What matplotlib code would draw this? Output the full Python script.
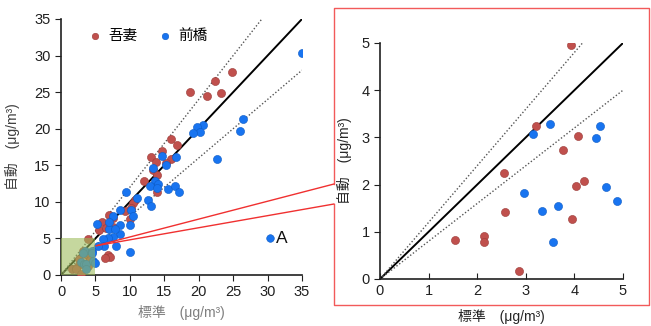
import matplotlib
matplotlib.use("Agg")
import matplotlib.pyplot as plt
from matplotlib.lines import Line2D
from matplotlib.patches import Rectangle, ConnectionPatch

plt.rcParams['font.family'] = ['Liberation Sans', 'Noto Sans CJK JP', 'DejaVu Sans']

# 吾妻 (red)
agatsuma_std = [24.9, 22.4, 18.8, 21.2, 23.2, 16.0, 16.8, 14.6, 13.1, 13.8, 16.0, 15.3, 13.4, 13.9,
                12.1, 14.0, 10.7, 10.5, 10.2, 10.0, 9.3, 6.9, 7.6, 5.9, 5.5, 6.6, 7.6, 6.8, 7.1, 6.4,
                3.94, 3.22, 2.55, 2.58, 1.55, 2.13, 2.13, 2.87, 3.77, 4.07, 4.03, 4.19, 3.95]
agatsuma_auto = [27.8, 26.5, 25.0, 24.5, 24.9, 18.6, 17.8, 16.9, 16.2, 15.4, 15.8, 15.3, 14.4, 13.7,
                 12.9, 11.3, 10.3, 9.8, 9.1, 7.7, 8.7, 8.2, 7.8, 7.2, 6.2, 6.4, 6.6, 2.7, 2.4, 2.3,
                 4.96, 3.25, 2.25, 1.41, 0.82, 0.91, 0.78, 0.18, 2.74, 3.04, 1.98, 2.08, 1.27]

# 前橋 (blue)
maebashi_std = [35.0, 26.5, 26.0, 20.6, 19.8, 20.2, 19.1, 22.7, 16.7, 14.7, 15.2, 13.4, 13.6, 14.1,
                12.9, 13.9, 15.6, 16.6, 17.1, 12.7, 13.0, 9.4, 11.0, 10.2, 10.5, 10.0, 8.5, 8.5, 8.6,
                7.5, 7.0, 7.8, 6.9, 7.6, 6.8, 6.1, 5.3, 6.2, 8.0, 5.4, 10.0,
                3.49, 3.15, 2.97, 3.34, 3.66, 3.56, 4.53, 4.45, 4.64, 4.88]
maebashi_auto = [30.3, 21.3, 19.7, 20.5, 20.3, 19.6, 19.4, 15.9, 16.1, 16.3, 15.0, 14.6, 12.9, 12.5,
                 12.1, 11.9, 11.7, 12.2, 11.3, 10.3, 9.4, 11.3, 10.5, 8.9, 8.1, 6.9, 8.9, 6.8, 5.6,
                 8.1, 6.3, 6.3, 7.2, 5.2, 5.0, 4.9, 7.0, 3.9, 3.9, 4.0, 3.1,
                 3.28, 3.07, 1.82, 1.45, 1.54, 0.78, 3.25, 2.98, 1.95, 1.66]

red = '#C0504D'
blue = '#1874F0'
unit = '\u3000(\u03bcg/m\u00b3)'

fig = plt.figure(figsize=(6.51, 3.26), dpi=100)
W, H = 651.0, 326.0

def px(x0, y0, x1, y1):
    return [x0 / W, 1 - y1 / H, (x1 - x0) / W, (y1 - y0) / H]

ax1 = fig.add_axes(px(61, 19, 302, 275))
ax2 = fig.add_axes(px(380, 43, 623, 279))

def style(ax, lim, step, xdir):
    ax.set_xlim(0, lim)
    ax.set_ylim(0, lim)
    ax.set_xticks(range(0, lim + 1, step))
    ax.set_yticks(range(0, lim + 1, step))
    for s in ['top', 'right']:
        ax.spines[s].set_visible(False)
    for s in ['left', 'bottom']:
        ax.spines[s].set_linewidth(1.2)
        ax.spines[s].set_color('#202020')
    ax.tick_params(axis='x', direction=xdir, length=4, labelsize=10.5, colors='#202020')
    ax.tick_params(axis='y', direction='out', length=4, labelsize=10.5, colors='#202020')

# left: full range
style(ax1, 35, 5, 'out')
ax1.plot([0, 35], [0, 35], color='black', lw=1.4, zorder=2)
ax1.plot([0, 35 / 1.2], [0, 35], color='#555555', lw=1.0, ls=(0, (1, 1.5)), zorder=2)
ax1.plot([0, 35], [0, 28], color='#555555', lw=1.0, ls=(0, (1, 1.5)), zorder=2)
ax1.scatter(agatsuma_std, agatsuma_auto, s=34, color=red, edgecolors='#9a3a37', linewidths=0.4,
            zorder=3, label='吾妻')
ax1.scatter(maebashi_std, maebashi_auto, s=34, color=blue, edgecolors='#0d5bc4', linewidths=0.4,
            zorder=3, label='前橋')
ax1.add_patch(Rectangle((0, 0), 5, 5, color='#9BBB59', alpha=0.58, lw=0, zorder=4))
ax1.scatter([30.4], [5.0], s=30, color=blue, edgecolors='#0d5bc4', linewidths=0.4, zorder=3,
            clip_on=False)
ax1.text(31.2, 5.0, 'A', fontsize=12.5, va='center', ha='left', color='#111111')
ax1.legend(loc='upper left', bbox_to_anchor=(0.08, 0.985), ncol=2, frameon=False,
           fontsize=10.5, handletextpad=0.3, columnspacing=1.3, markerscale=0.8,
           handlelength=1.2, borderaxespad=0)
ax1.set_xlabel('標準' + unit, fontsize=10, color='#7f7f7f', labelpad=4)
ax1.set_ylabel('自動' + unit, fontsize=10, color='#404040', labelpad=10)

# right: 0-5 zoom
style(ax2, 5, 1, 'in')
ax2.plot([0, 5], [0, 5], color='black', lw=1.4, zorder=2)
ax2.plot([0, 5 / 1.2], [0, 5], color='#555555', lw=1.0, ls=(0, (1, 1.5)), zorder=2)
ax2.plot([0, 5], [0, 4], color='#555555', lw=1.0, ls=(0, (1, 1.5)), zorder=2)
ax2.scatter(agatsuma_std, agatsuma_auto, s=34, color=red, edgecolors='#9a3a37', linewidths=0.4,
            zorder=3)
ax2.scatter(maebashi_std, maebashi_auto, s=34, color=blue, edgecolors='#0d5bc4', linewidths=0.4,
            zorder=3)
ax2.set_xlabel('標準' + unit, fontsize=10, color='#262626', labelpad=8)
ax2.set_ylabel('自動' + unit, fontsize=10, color='#262626', labelpad=7)

# red frame around the zoom panel, with a gap where the connector lines enter
frame_x = [334, 334, 649, 649, 334, 334]
frame_y = [184, 8, 8, 305, 305, 204]
fig.add_artist(Line2D([x / W for x in frame_x], [1 - y / H for y in frame_y],
                      transform=fig.transFigure, color='#F25A5A', lw=1.0))
for yb in [184, 204]:
    con = ConnectionPatch(xyA=(5.1, 4.0), coordsA=ax1.transData,
                          xyB=(334 / W, 1 - yb / H), coordsB=fig.transFigure,
                          color='#F03030', lw=1.0, zorder=5)
    fig.add_artist(con)

fig.savefig('out.png', dpi=100)
